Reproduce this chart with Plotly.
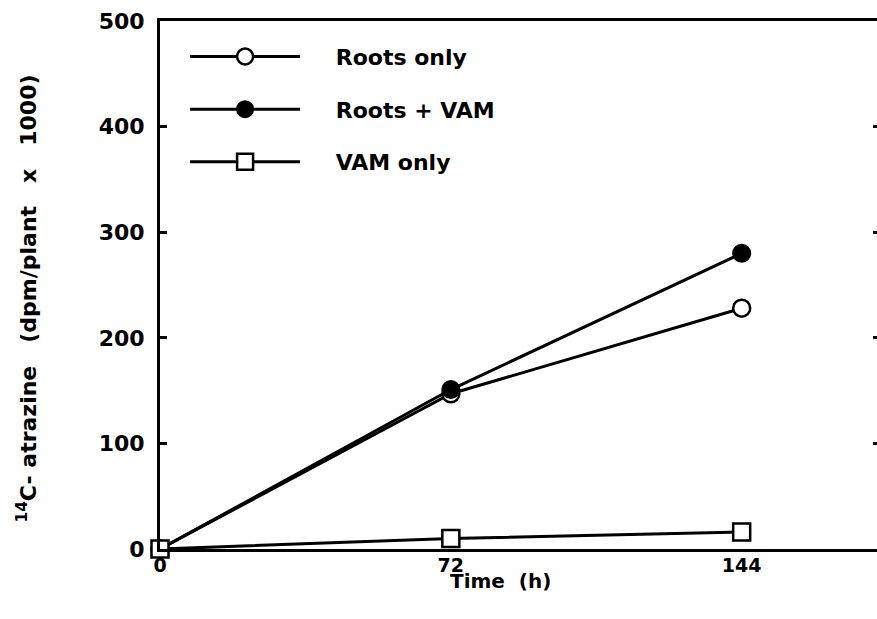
import plotly.graph_objects as go

time_h = [0, 72, 144]
roots_only = [0, 147, 228]
roots_vam = [0, 151, 280]
vam_only = [0, 10, 16]

x_ticks = [0, 72, 144]
y_ticks = [0, 100, 200, 300, 400, 500]

FONT = "DejaVu Sans"
fig = go.Figure()

series = [
    ("Roots only", roots_only, dict(symbol="circle", color="white", size=17, line=dict(color="black", width=2.5))),
    ("Roots + VAM", roots_vam, dict(symbol="circle", color="black", size=17, line=dict(color="black", width=2))),
    ("VAM only", vam_only, dict(symbol="square", color="white", size=17, line=dict(color="black", width=2.5))),
]
for name, vals, mk in series:
    fig.add_trace(go.Scatter(
        x=time_h, y=vals, name="\u00a0" * 4 + name, mode="lines+markers",
        line=dict(color="black", width=3), marker=mk, cliponaxis=False,
        legendgroup=name,
    ))

# dummy trace so the right-hand tick axis is drawn
fig.add_trace(go.Scatter(x=[None], y=[None], yaxis="y2", showlegend=False, hoverinfo="skip"))

fig.update_layout(
    width=877, height=619,
    margin=dict(l=160, r=0, t=21, b=70),
    paper_bgcolor="white", plot_bgcolor="white",
    font=dict(family=FONT, color="black"),
    showlegend=True,
    legend=dict(
        x=0.035, y=0.972, xanchor="left", yanchor="top",
        font=dict(family=FONT, size=22, color="black", weight="bold"),
        itemwidth=110, tracegroupgap=21, traceorder="grouped",
        bgcolor="rgba(0,0,0,0)",
    ),
    xaxis=dict(
        range=[0, 177.5], tickvals=x_ticks, ticktext=[str(v) for v in x_ticks],
        showline=True, linecolor="black", linewidth=3, mirror=True,
        ticks="", showgrid=False, zeroline=False,
        tickfont=dict(family=FONT, size=19, weight="bold"),
        ticklabelstandoff=-3,
    ),
    yaxis=dict(
        range=[0, 500], tickvals=y_ticks, ticktext=[str(v) for v in y_ticks],
        showline=True, linecolor="black", linewidth=3,
        ticks="inside", ticklen=7, tickwidth=3, tickcolor="black",
        showgrid=False, zeroline=False,
        tickfont=dict(family=FONT, size=22, weight="bold"),
        ticklabelstandoff=8,
    ),
    yaxis2=dict(
        range=[0, 500], tickvals=y_ticks[1:-1], overlaying="y", side="right",
        anchor="free", position=1, showline=False, showgrid=False, zeroline=False,
        ticks="inside", ticklen=4, tickwidth=3, tickcolor="black", showticklabels=False,
    ),
    annotations=[
        dict(text="Time  (h)", xref="paper", yref="paper",
             x=(500 - 160) / 717, y=-0.035, xanchor="center", yanchor="top",
             showarrow=False, font=dict(family=FONT, size=20, weight="bold")),
        dict(text="<sup>14</sup>C- atrazine   (dpm/plant   x   1000)", xref="paper", yref="paper",
             x=-0.185, y=0.475, xanchor="center", yanchor="middle", textangle=-90,
             showarrow=False, font=dict(family=FONT, size=22, weight="bold")),
    ],
)

fig.write_html("out.html", config={"displayModeBar": False},
               post_script="document.body.style.margin='0px';document.body.style.overflow='hidden';")
